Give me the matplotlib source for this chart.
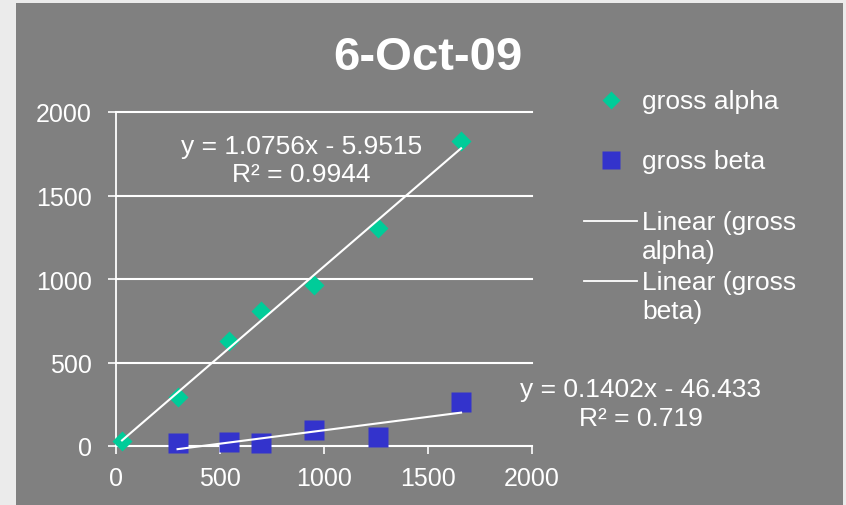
import numpy as np
import matplotlib.pyplot as plt
from matplotlib.patches import Rectangle
from matplotlib.lines import Line2D

plt.rcParams['font.family'] = ['Liberation Sans', 'DejaVu Sans']

# gross alpha / gross beta readings
alpha_x = [29, 296, 542, 699, 954, 1260, 1659]
alpha_y = [32, 295, 627, 806, 966, 1303, 1824]
beta_x = [296, 542, 699, 954, 1260, 1659]
beta_y = [16, 26, 18, 96, 52, 262]
ticks = [0, 500, 1000, 1500, 2000]

title = '6-Oct-09'
alpha_eq = 'y = 1.0756x - 5.9515\nR² = 0.9944'
beta_eq = 'y = 0.1402x - 46.433\nR² = 0.719'
labels = ['gross alpha', 'gross beta', 'Linear (gross\nalpha)', 'Linear (gross\nbeta)']

W, H = 846, 506
bg = '#808080'
c_alpha = '#00cc99'
c_beta = '#3333cc'


def px(x, y):
    return (x / W, 1 - y / H)


fig = plt.figure(figsize=(W / 100, H / 100), dpi=100, facecolor='#ebebeb')
fig.patches.append(Rectangle((16 / W, 0), (843 - 16) / W, (H - 4) / H,
                             transform=fig.transFigure, facecolor=bg,
                             edgecolor='none', zorder=-5))
ax = fig.add_axes([116 / W, 59 / H, 416 / W, 334 / H])
ax.set_zorder(1)
ax.set_facecolor('none')
ax.set_xlim(0, 2000)
ax.set_ylim(0, 2000)
ax.set_xticks(ticks)
ax.set_yticks(ticks)
for s in ['top', 'right']:
    ax.spines[s].set_visible(False)
for s in ['left', 'bottom']:
    ax.spines[s].set_color('white')
    ax.spines[s].set_linewidth(1.3)
ax.tick_params(colors='white', labelcolor='white', labelsize=18,
               length=5.5, width=1.2, direction='out')
ax.tick_params(axis='y', pad=12)
ax.tick_params(axis='x', pad=9)
ax.yaxis.grid(True, color='white', linewidth=1.5)
for gl in ax.get_ygridlines():
    gl.set_clip_on(False)
ax.set_axisbelow(True)

ax.plot(alpha_x, alpha_y, 'D', color=c_alpha, ms=9.7, mec='none',
        clip_on=False, zorder=3)
ax.plot(beta_x, beta_y, 's', color=c_beta, ms=14.4, mec='none',
        clip_on=False, zorder=3)

# linear trendlines
for xs, ys in [(alpha_x, alpha_y), (beta_x, beta_y)]:
    k, b = np.polyfit(xs, ys, 1)
    xx = np.array([min(xs), max(xs)])
    ax.plot(xx, k * xx + b, color='white', lw=1.5, zorder=4, clip_on=False)

ax.text(0.445, 0.856, alpha_eq, transform=ax.transAxes, color='white',
        fontsize=19, ha='center', va='center', multialignment='center',
        linespacing=1.25)
ax.text(1.262, 0.128, beta_eq, transform=ax.transAxes, color='white',
        fontsize=19, ha='center', va='center', multialignment='center',
        linespacing=1.25)

fig.text(*px(428, 58), title, color='white', fontsize=34, fontweight='bold',
         ha='center', va='center')

# legend
fig.lines.append(Line2D(*zip(px(611, 101)), marker='D', color=c_alpha, ms=9.2,
                        mec='none', transform=fig.transFigure))
fig.lines.append(Line2D(*zip(px(611, 161)), marker='s', color=c_beta, ms=13,
                        mec='none', transform=fig.transFigure))
for yy in [222, 282]:
    (x0, y0), (x1, y1) = px(584, yy), px(637, yy)
    fig.lines.append(Line2D([x0, x1], [y0, y1], color='white', lw=1.3,
                            transform=fig.transFigure))
for lab, yy in zip(labels, [101, 161, 222, 282]):
    fig.text(*px(642, yy - 11), lab, color='white', fontsize=19,
             ha='left', va='top', linespacing=1.25)

fig.savefig('out.png', dpi=100, facecolor=fig.get_facecolor())
